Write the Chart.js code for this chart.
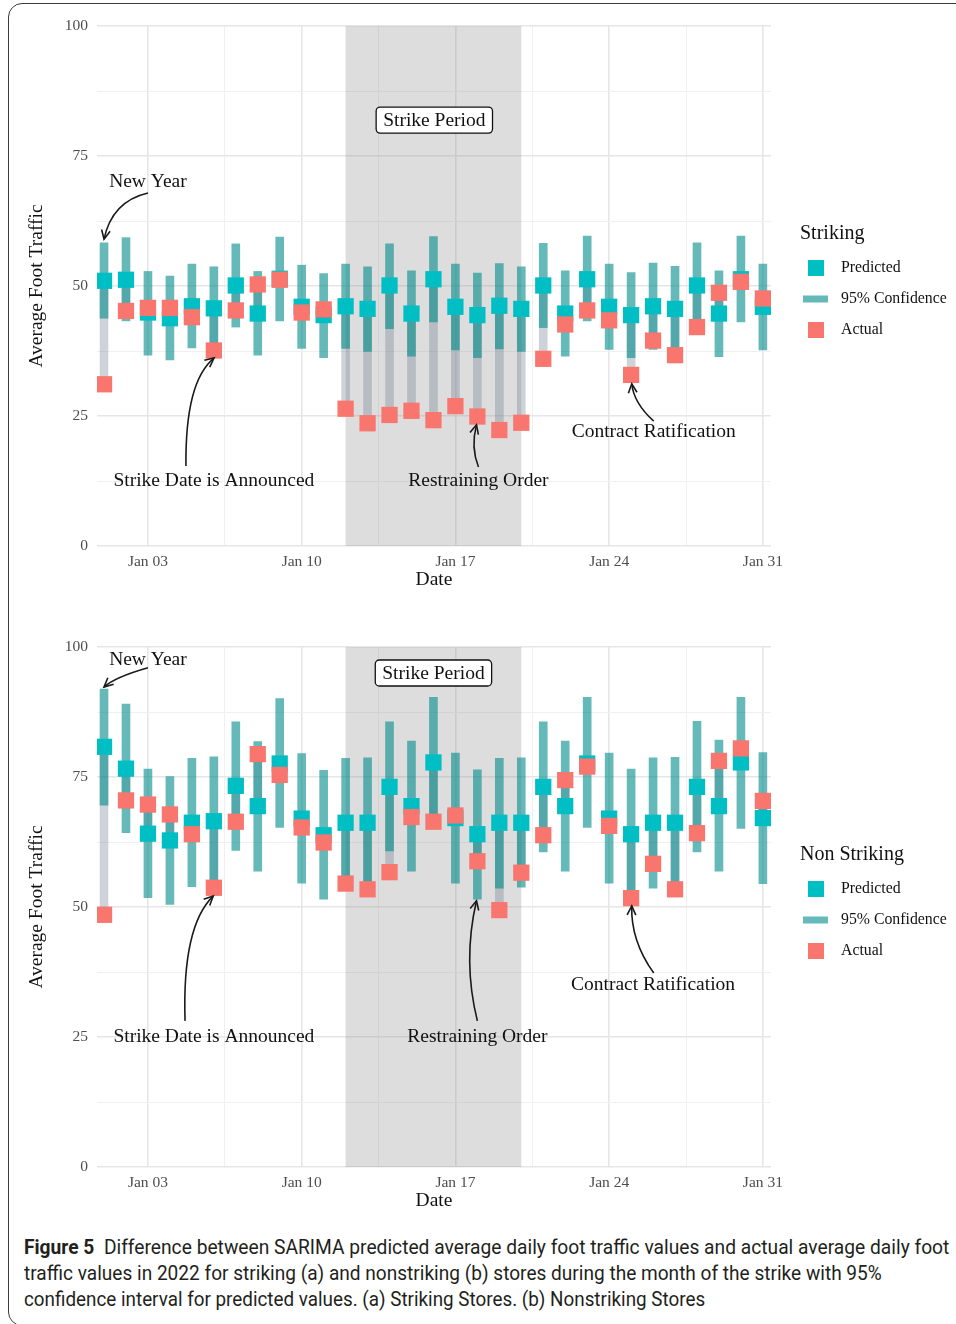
<!DOCTYPE html>
<html>
<head>
<meta charset="utf-8">
<script src="https://cdn.jsdelivr.net/npm/chart.js@4.4.1/dist/chart.umd.min.js"></script>
<style>
  html, body { margin: 0; padding: 0; background: #fff; }
  #page { position: relative; width: 956px; height: 1324px; overflow: hidden; }
  #frame { position: absolute; left: 8px; top: 3px; width: 980px; height: 1321px;
           border: 1.5px solid #3a3a3a; border-radius: 14px; }
  canvas { position: absolute; left: 0; }
  #c1 { top: 0; }
  #c2 { top: 621px; }
  #caption { position: absolute; left: 24px; top: 1235px; font-family: Roboto, sans-serif;
             font-size: 19.5px; line-height: 26px; color: #231f20; }
  #caption div { white-space: nowrap; transform-origin: 0 50%; width: max-content; }
  #caption b { font-weight: 700; }
</style>
</head>
<body>
<div id="page">
  <div id="frame"></div>
  <canvas id="c1" width="956" height="600"></canvas>
  <canvas id="c2" width="956" height="600"></canvas>
  <div id="caption">
    <div><b>Figure 5</b>&nbsp; Difference between SARIMA predicted average daily foot traffic values and actual average daily foot</div>
    <div>traffic values in 2022 for striking (a) and nonstriking (b) stores during the month of the strike with 95%</div>
    <div>confidence interval for predicted values. (a) Striking Stores. (b) Nonstriking Stores</div>
  </div>
</div>
<script>
// days of January 2022
const days = [1, 2, 3, 4, 5, 6, 7, 8, 9, 10, 11, 12, 13, 14, 15, 16,
              17, 18, 19, 20, 21, 22, 23, 24, 25, 26, 27, 28, 29, 30, 31];
const tickDays = [3, 10, 17, 24, 31];
const tickLabels = ["Jan 03", "Jan 10", "Jan 17", "Jan 24", "Jan 31"];
const yTicks = [0, 25, 50, 75, 100];
const strikeStart = 12;
const strikeEnd = 20;

// (a) striking stores
const strikingPredicted = [51.0, 51.2, 44.9, 43.8, 46.1, 45.7, 50.1, 44.7, 51.4, 46.0, 44.4,
  46.1, 45.6, 50.1, 44.7, 51.3, 46.0, 44.4, 46.2, 45.6, 50.1, 44.7, 51.3, 46.0, 44.4,
  46.1, 45.6, 50.1, 44.7, 51.3, 46.0];
const strikingLower = [43.8, 43.3, 36.7, 35.8, 38.1, 37.7, 42.1, 36.7, 43.3, 38.0, 36.2,
  38.0, 37.4, 41.8, 36.5, 43.1, 37.7, 36.2, 37.9, 37.4, 42.0, 36.5, 43.3, 37.8, 36.2,
  37.8, 37.4, 42.0, 36.4, 43.1, 37.7];
const strikingUpper = [58.3, 59.3, 52.8, 51.9, 54.2, 53.7, 58.1, 52.8, 59.4, 54.0, 52.4,
  54.2, 53.7, 58.1, 52.9, 59.5, 54.2, 52.5, 54.3, 53.7, 58.2, 52.9, 59.6, 54.2, 52.6,
  54.4, 53.8, 58.3, 52.9, 59.6, 54.2];
const strikingActual = [31.1, 45.2, 45.8, 45.8, 44.0, 37.6, 45.3, 50.3, 51.2, 44.9, 45.5,
  26.4, 23.6, 25.2, 26.0, 24.2, 26.9, 24.9, 22.3, 23.7, 36.0, 42.6, 45.3, 43.4, 32.9,
  39.5, 36.7, 42.1, 48.7, 50.8, 47.6];

// (b) non striking stores
const nonPredicted = [80.8, 76.6, 64.1, 62.8, 66.2, 66.5, 73.3, 69.4, 77.6, 67.0, 63.8,
  66.2, 66.2, 73.1, 69.4, 77.8, 67.1, 64.0, 66.2, 66.2, 73.1, 69.4, 77.6, 67.0, 64.0,
  66.2, 66.2, 73.1, 69.4, 77.8, 67.1];
const nonLower = [69.6, 64.3, 51.8, 50.5, 53.9, 54.1, 60.9, 56.9, 65.3, 54.6, 51.5,
  53.8, 53.7, 60.8, 56.9, 65.3, 54.6, 51.5, 53.6, 53.8, 60.6, 56.9, 65.3, 54.6, 51.5,
  53.6, 53.7, 60.6, 56.9, 65.1, 54.5];
const nonUpper = [91.9, 89.0, 76.5, 75.1, 78.6, 78.9, 85.6, 81.8, 90.1, 79.5, 76.3,
  78.6, 78.7, 85.6, 81.9, 90.3, 79.6, 76.4, 78.6, 78.7, 85.6, 81.9, 90.3, 79.6, 76.5,
  78.7, 78.8, 85.7, 82.1, 90.3, 79.7];
const nonActual = [48.5, 70.5, 69.7, 67.8, 64.0, 53.7, 66.4, 79.4, 75.4, 65.3, 62.4,
  54.5, 53.4, 56.7, 67.3, 66.4, 67.6, 58.8, 49.4, 56.6, 63.8, 74.4, 77.0, 65.6, 51.7,
  58.3, 53.4, 64.2, 78.1, 80.5, 70.4];

const PRED_COLOR = "#00BFC4";
const ACT_COLOR = "#F8766D";
const CI_COLOR = "rgba(0, 139, 139, 0.6)";
const DIFF_COLOR = "rgba(112, 128, 144, 0.35)";
const SERIF = '"Liberation Serif", "Times New Roman", serif';

Chart.defaults.font.family = SERIF;
Chart.defaults.animation = false;

// annotations in data units: [day, value]
const annotationsA = {
  labels: [
    { text: "New Year", at: [3.0, 70.0] },
    { text: "Strike Date is Announced", at: [6.0, 12.5] },
    { text: "Restraining Order", at: [18.05, 12.5] },
    { text: "Contract Ratification", at: [26.03, 21.9] }
  ],
  arrows: [
    { from: [3.0, 67.9], ctrl: [1.36, 66.3], to: [1.0, 59.0] },
    { from: [4.73, 15.4], ctrl: [4.69, 31.7], to: [6.01, 36.15] },
    { from: [18.05, 15.2], ctrl: [17.69, 19.0], to: [17.96, 23.3] },
    { from: [26.03, 24.0], ctrl: [25.12, 27.5], to: [25.03, 31.2] }
  ],
  box: { text: "Strike Period", at: [16.04, 81.9] }
};
const annotationsB = {
  labels: [
    { text: "New Year", at: [3.0, 97.6] },
    { text: "Strike Date is Announced", at: [6.0, 25.0] },
    { text: "Restraining Order", at: [18.0, 25.0] },
    { text: "Contract Ratification", at: [26.0, 35.0] }
  ],
  arrows: [
    { from: [3.0, 96.0], ctrl: [1.5, 94.2], to: [1.0, 92.3] },
    { from: [4.69, 28.1], ctrl: [4.55, 46.3], to: [5.97, 52.1] },
    { from: [18.0, 28.1], ctrl: [17.32, 39.6], to: [17.96, 51.2] },
    { from: [26.03, 37.3], ctrl: [24.98, 43.5], to: [25.03, 50.2] }
  ],
  box: { text: "Strike Period", at: [16.0, 95.0] }
};

function drawArrow(ctx, p0, c, p1) {
  ctx.beginPath();
  ctx.moveTo(p0.x, p0.y);
  ctx.quadraticCurveTo(c.x, c.y, p1.x, p1.y);
  ctx.stroke();
  const ang = Math.atan2(p1.y - c.y, p1.x - c.x);
  const len = 10, spread = Math.PI / 7;
  ctx.beginPath();
  ctx.moveTo(p1.x - len * Math.cos(ang - spread), p1.y - len * Math.sin(ang - spread));
  ctx.lineTo(p1.x, p1.y);
  ctx.lineTo(p1.x - len * Math.cos(ang + spread), p1.y - len * Math.sin(ang + spread));
  ctx.stroke();
}

function decorPlugin(notes, legendTitle) {
  return {
    id: "decor",
    beforeDatasetsDraw(chart) {
      const { ctx, chartArea, scales: { x } } = chart;
      const x0 = x.getPixelForValue(strikeStart);
      const x1 = x.getPixelForValue(strikeEnd);
      ctx.save();
      ctx.fillStyle = "rgba(128, 128, 128, 0.27)";
      ctx.fillRect(x0, chartArea.top, x1 - x0, chartArea.bottom - chartArea.top);
      ctx.restore();
    },
    afterDatasetsDraw(chart) {
      const { ctx, scales: { x, y } } = chart;
      const px = p => ({ x: x.getPixelForValue(p[0]), y: y.getPixelForValue(p[1]) });
      ctx.save();
      ctx.strokeStyle = "#1a1a1a";
      ctx.lineWidth = 1.6;
      notes.arrows.forEach(a => drawArrow(ctx, px(a.from), px(a.ctrl), px(a.to)));

      ctx.fillStyle = "#111";
      ctx.font = "19.5px " + SERIF;
      ctx.textAlign = "center";
      ctx.textBaseline = "middle";
      notes.labels.forEach(l => {
        const p = px(l.at);
        ctx.fillText(l.text, p.x, p.y);
      });

      // boxed "Strike Period" label
      const b = px(notes.box.at);
      const w = ctx.measureText(notes.box.text).width + 14;
      const h = 26;
      ctx.beginPath();
      ctx.roundRect(b.x - w / 2, b.y - h / 2, w, h, 4);
      ctx.fillStyle = "#fff";
      ctx.fill();
      ctx.lineWidth = 1.3;
      ctx.strokeStyle = "#111";
      ctx.stroke();
      ctx.fillStyle = "#111";
      ctx.fillText(notes.box.text, b.x, b.y + 1);
      ctx.restore();
    },
    afterDraw(chart) {
      const ctx = chart.ctx;
      ctx.save();
      ctx.fillStyle = "#111";
      ctx.textAlign = "left";
      ctx.textBaseline = "middle";
      ctx.font = "20px " + SERIF;
      ctx.fillText(legendTitle, 800, 234);
      ctx.font = "15.8px " + SERIF;
      ctx.fillStyle = PRED_COLOR;
      ctx.fillRect(808, 260, 16, 16);
      ctx.fillStyle = CI_COLOR;
      ctx.fillRect(803, 295.5, 25, 7);
      ctx.fillStyle = ACT_COLOR;
      ctx.fillRect(808, 322, 16, 16);
      ctx.fillStyle = "#111";
      ctx.fillText("Predicted", 841, 268);
      ctx.fillText("95% Confidence", 841, 299);
      ctx.fillText("Actual", 841, 330);
      ctx.restore();
    }
  };
}

function makePanel(canvasId, predicted, lower, upper, actual, notes, legendTitle) {
  const ciData = days.map((d, i) => ({ x: d, y: [lower[i], upper[i]] }));
  const diffData = days.map((d, i) => ({ x: d, y: [actual[i], predicted[i]] }));
  const predData = days.map((d, i) => ({ x: d, y: predicted[i] }));
  const actData = days.map((d, i) => ({ x: d, y: actual[i] }));

  const xGrid = [];
  for (let v = 3; v <= 31; v += 3.5) xGrid.push(v);
  const yGrid = [];
  for (let v = 0; v <= 100; v += 12.5) yGrid.push(v);

  new Chart(document.getElementById(canvasId), {
    type: "bar",
    data: {
      datasets: [
        { type: "scatter", label: "Actual", data: actData, order: 0,
          pointStyle: "rect", pointRadius: 11.5, pointBorderWidth: 0,
          backgroundColor: ACT_COLOR, borderColor: ACT_COLOR },
        { type: "scatter", label: "Predicted", data: predData, order: 1,
          pointStyle: "rect", pointRadius: 11.5, pointBorderWidth: 0,
          backgroundColor: PRED_COLOR, borderColor: PRED_COLOR },
        { label: "95% Confidence", data: ciData, order: 2, grouped: false,
          barThickness: 8, backgroundColor: CI_COLOR, borderWidth: 0 },
        { label: "Difference", data: diffData, order: 3, grouped: false,
          barThickness: 8, backgroundColor: DIFF_COLOR, borderWidth: 0 }
      ]
    },
    options: {
      responsive: false,
      events: [],
      layout: { padding: { top: 26, right: 185, bottom: 0, left: 0 } },
      plugins: { legend: { display: false }, tooltip: { enabled: false } },
      scales: {
        x: {
          type: "linear",
          min: 0.68,
          max: 31.37,
          offset: false,
          afterBuildTicks: scale => { scale.ticks = xGrid.map(v => ({ value: v })); },
          afterFit: scale => { scale.height = 54; },
          ticks: {
            autoSkip: false,
            maxRotation: 0,
            padding: 7,
            color: "#4d4d4d",
            font: { size: 15.5 },
            callback: v => {
              const k = tickDays.indexOf(v);
              return k >= 0 ? tickLabels[k] : "";
            }
          },
          grid: {
            offset: false,
            drawTicks: false,
            color: c => tickDays.includes(c.tick.value) ? "#e6e6e6" : "#f0f0f0",
            lineWidth: c => tickDays.includes(c.tick.value) ? 1.6 : 1
          },
          border: { display: false },
          title: { display: true, text: "Date", color: "#111",
                   font: { size: 19.5 }, padding: { top: 0, bottom: 8.6 } }
        },
        y: {
          min: 0,
          max: 100,
          afterBuildTicks: scale => { scale.ticks = yGrid.map(v => ({ value: v })); },
          afterFit: scale => { scale.width = 97; },
          ticks: {
            padding: 9,
            color: "#4d4d4d",
            font: { size: 15.5 },
            callback: v => yTicks.includes(v) ? String(v) : ""
          },
          grid: {
            drawTicks: false,
            color: c => yTicks.includes(c.tick.value) ? "#e6e6e6" : "#f0f0f0",
            lineWidth: c => yTicks.includes(c.tick.value) ? 1.6 : 1
          },
          border: { display: false },
          title: { display: true, text: "Average Foot Traffic", color: "#111",
                   font: { size: 19.5 }, padding: { top: 25.6, bottom: 0 } }
        }
      }
    },
    plugins: [decorPlugin(notes, legendTitle)]
  });
}

makePanel("c1", strikingPredicted, strikingLower, strikingUpper, strikingActual,
  annotationsA, "Striking");
makePanel("c2", nonPredicted, nonLower, nonUpper, nonActual,
  annotationsB, "Non Striking");

// squeeze the caption lines to the widths of the printed caption
const captionWidths = [925, 858, 681];
document.querySelectorAll("#caption div").forEach((line, i) => {
  const w = line.getBoundingClientRect().width;
  line.style.transform = "scaleX(" + (captionWidths[i] / w).toFixed(3) + ")";
});
</script>
</body>
</html>
